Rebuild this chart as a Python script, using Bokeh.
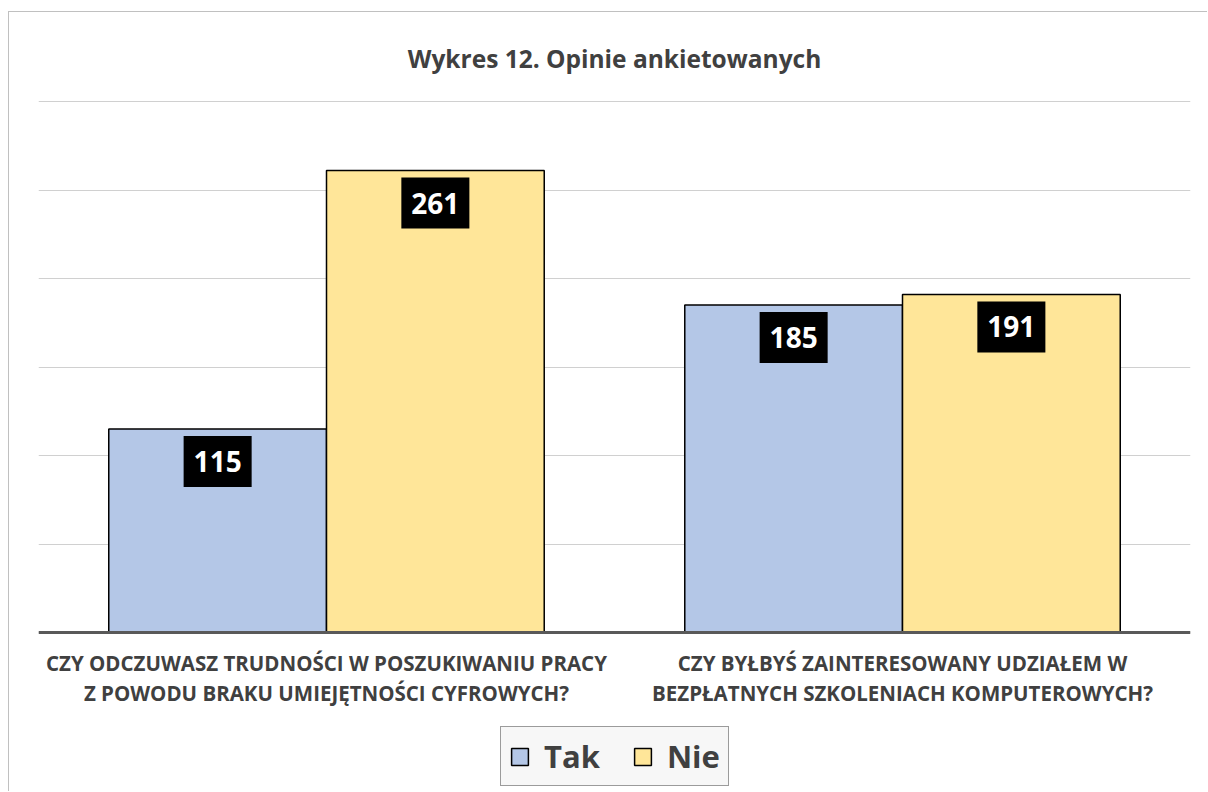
from bokeh.plotting import figure
from bokeh.models import (ColumnDataSource, FactorRange, Legend, LegendItem,
                          Title, FixedTicker)
from bokeh.transform import dodge
from bokeh.core.properties import value
from bokeh.embed import file_html
from bokeh.resources import INLINE

questions = [
    "CZY ODCZUWASZ TRUDNOŚCI W POSZUKIWANIU PRACY\nZ POWODU BRAKU UMIEJĘTNOŚCI CYFROWYCH?",
    "CZY BYŁBYŚ ZAINTERESOWANY UDZIAŁEM W\nBEZPŁATNYCH SZKOLENIACH KOMPUTEROWYCH?",
]
series = ["Tak", "Nie"]
tak = [115, 185]
nie = [261, 191]
y_ticks = [0, 50, 100, 150, 200, 250, 300]
title_text = "Wykres 12. Opinie ankietowanych"

FONT = "Open Sans"
TXT = "#404040"
C_TAK = "#b4c7e7"
C_NIE = "#ffe699"
BW = 0.378

src = ColumnDataSource(dict(q=questions, tak=tak, nie=nie,
                            tak_s=[str(v) for v in tak], nie_s=[str(v) for v in nie]))

p = figure(width=1199, height=780, x_range=FactorRange(factors=questions, range_padding=0),
           y_range=(-90.4, 300.6), output_backend="svg", toolbar_location=None,
           min_border_left=29, min_border_right=18, min_border_top=88, min_border_bottom=0,
           styles={"margin-left": "8px", "margin-top": "11px",
                   "border-left": "1px solid #c0c0c0", "border-top": "1px solid #c0c0c0"})
p.title = None
p.add_layout(Title(text=title_text, align="center", text_font=FONT, text_font_size="24.5px",
                   text_font_style="bold", text_color=TXT, offset=0, standoff=51), "above")

r_tak = p.vbar(x=dodge("q", -BW / 2, range=p.x_range), top="tak", width=BW, source=src,
               fill_color=C_TAK, line_color="black", line_width=1.5)
r_nie = p.vbar(x=dodge("q", BW / 2, range=p.x_range), top="nie", width=BW, source=src,
               fill_color=C_NIE, line_color="black", line_width=1.5)

for col, off in (("tak", -BW / 2), ("nie", BW / 2)):
    p.text(x=dodge("q", off, range=p.x_range), y=col, text=col + "_s", source=src,
           y_offset=7, text_baseline="top", text_align="center",
           text_font=value(FONT), text_font_size="28px", text_font_style="bold",
           text_color="white", background_fill_color="black",
           padding=(10, 15))

p.yaxis.visible = False
p.ygrid.ticker = FixedTicker(ticks=y_ticks)
p.ygrid.grid_line_color = "#d0d0d0"
p.ygrid.grid_line_width = 1
p.xgrid.grid_line_color = None
p.outline_line_color = None

ax = p.xaxis[0]
ax.fixed_location = 0
ax.axis_line_color = "#595959"
ax.axis_line_width = 3
ax.major_tick_line_color = None
ax.minor_tick_line_color = None
ax.major_label_text_font = FONT
ax.major_label_text_font_size = "20.5px"
ax.major_label_text_font_style = "bold"
ax.major_label_text_color = TXT
ax.major_label_text_line_height = 1.1
ax.major_label_standoff = 10
ax.major_label_orientation = "horizontal"

legend = Legend(items=[LegendItem(label=series[0], renderers=[r_tak]),
                       LegendItem(label=series[1], renderers=[r_nie])],
                orientation="horizontal", location=(462, 6),
                label_text_font=FONT, label_text_font_size="31px", label_text_font_style="bold",
                label_text_color=TXT, glyph_width=21, glyph_height=21,
                border_line_color="#404040", border_line_width=1.5,
                background_fill_color="#f7f7f7", background_fill_alpha=1,
                padding=8, spacing=32, label_standoff=14, margin=0)
p.add_layout(legend, "center")

open("out.html", "w").write(file_html(p, INLINE))
